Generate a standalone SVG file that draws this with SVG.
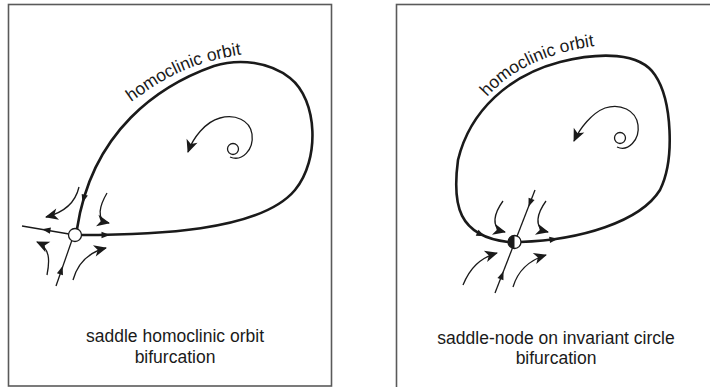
<svg xmlns="http://www.w3.org/2000/svg" width="710" height="387" viewBox="0 0 710 387">
  <style>
    .frame { fill: none; stroke: #5a5a5a; stroke-width: 1.6; }
    .orbit { fill: none; stroke: #1a1a1a; stroke-width: 2.6; stroke-linecap: round; }
    .thin { fill: none; stroke: #1a1a1a; stroke-width: 1.3; }
    .flow { fill: none; stroke: #1a1a1a; stroke-width: 1.3; marker-end: url(#ah); }
    .lbl { font-family: "Liberation Sans", Arial, sans-serif; font-size: 17.5px; fill: #1a1a1a; text-anchor: middle; }
    .curv { font-family: "Liberation Sans", Arial, sans-serif; font-size: 17.5px; fill: #1a1a1a; }
    .pt { fill: #fff; stroke: #1a1a1a; stroke-width: 1.3; }
  </style>
  <defs>
    <path id="sa" d="M2,0 L-6.5,-3.2 L-6.5,3.2 Z" fill="#1a1a1a"/>
    <marker id="ah" markerUnits="userSpaceOnUse" viewBox="-14 -7 16 14" markerWidth="16" markerHeight="14" refX="0" refY="0" orient="auto">
      <path d="M1,0 L-12,-5.8 L-8.5,0 L-12,5.8 Z" fill="#1a1a1a"/>
    </marker>
    <path id="tpL" d="M131,102 C160,82 185,62 252,53"/>
    <path id="tpR" d="M487,97 C512,69 552,48 622,43"/>
  </defs>

  <!-- Left panel: saddle homoclinic orbit bifurcation -->
  <g id="panel-left">
    <rect class="frame" x="8.5" y="4.5" width="323" height="381.5"/>
    <g id="left-orbit">
      <path class="orbit" d="M80,235 C150,235 260,232 295,190 C320,160 318,100 290,78 C270,62 240,58 214,66 C160,85 92,130 77,229"/>
      <text class="curv"><textPath href="#tpL" startOffset="0">homoclinic orbit</textPath></text>
    </g>
    <g id="left-saddle-lines">
      <path class="thin" d="M69,234 L22,226"/>
      <path class="thin" d="M72,240 L56,286"/>
      <use href="#sa" transform="translate(83,201) rotate(105.7)"/>
      <use href="#sa" transform="translate(108,235) rotate(0)"/>
      <use href="#sa" transform="translate(44,229.5) rotate(189.5)"/>
      <use href="#sa" transform="translate(62,268) rotate(-71.6)"/>
    </g>
    <g id="left-flows">
      <path class="flow" d="M79,187 C76,200 66,212 46,217"/>
      <path class="flow" d="M107,193 C100,205 95,220 109,223"/>
      <path class="flow" d="M47,275 C50,260 50,248 37,242"/>
      <path class="flow" d="M73,280 C78,262 90,252 106,248"/>
    </g>
    <g id="left-focus">
      <path class="flow" d="M230,157 C242,162 254,150 252,134 C250,120 235,114 220,118 C205,122 193,138 188,152"/>
      <circle class="pt" cx="233" cy="149" r="5.5"/>
    </g>
    <g id="left-saddle">
      <circle class="pt" cx="75" cy="235" r="6.5"/>
    </g>
    <text class="lbl" x="175" y="342">saddle homoclinic orbit</text>
    <text class="lbl" x="175" y="363">bifurcation</text>
  </g>

  <!-- Right panel: saddle-node on invariant circle bifurcation -->
  <g id="panel-right">
    <rect class="frame" x="396.5" y="4.5" width="400" height="400"/>
    <g id="right-orbit">
      <path class="orbit" d="M520,242 C580,240 640,222 660,190 C675,160 672,100 655,75 C640,52 600,52 560,62 C510,75 470,110 458,160 C452,205 458,236 508,242"/>
      <text class="curv"><textPath href="#tpR" startOffset="0">homoclinic orbit</textPath></text>
    </g>
    <g id="right-lines">
      <path class="thin" d="M535,190 L495,293"/>
      <use href="#sa" transform="translate(483,235.5) rotate(24.8)"/>
      <use href="#sa" transform="translate(556,239) rotate(-8)"/>
      <use href="#sa" transform="translate(529.2,205) rotate(111.2)"/>
      <use href="#sa" transform="translate(502.8,273) rotate(-68.8)"/>
    </g>
    <g id="right-flows">
      <path class="flow" d="M503,201 C495,212 489,228 505,232"/>
      <path class="flow" d="M546,201 C538,212 532,228 548,232"/>
      <path class="flow" d="M463,285 C470,268 480,258 497,253"/>
      <path class="flow" d="M513,287 C518,270 530,260 546,255"/>
    </g>
    <g id="right-focus">
      <path class="flow" d="M617,147 C628,152 640,140 638,125 C636,110 620,103 605,108 C592,113 580,128 574,141"/>
      <circle class="pt" cx="620" cy="138" r="5.5"/>
    </g>
    <g id="right-saddle-node">
      <circle class="pt" cx="514.5" cy="242" r="6.5"/>
      <path d="M514.5,235.5 A6.5,6.5 0 0,0 514.5,248.5 Z" fill="#1a1a1a"/>
    </g>
    <text class="lbl" x="556" y="344">saddle-node on invariant circle</text>
    <text class="lbl" x="556" y="364">bifurcation</text>
  </g>
</svg>
